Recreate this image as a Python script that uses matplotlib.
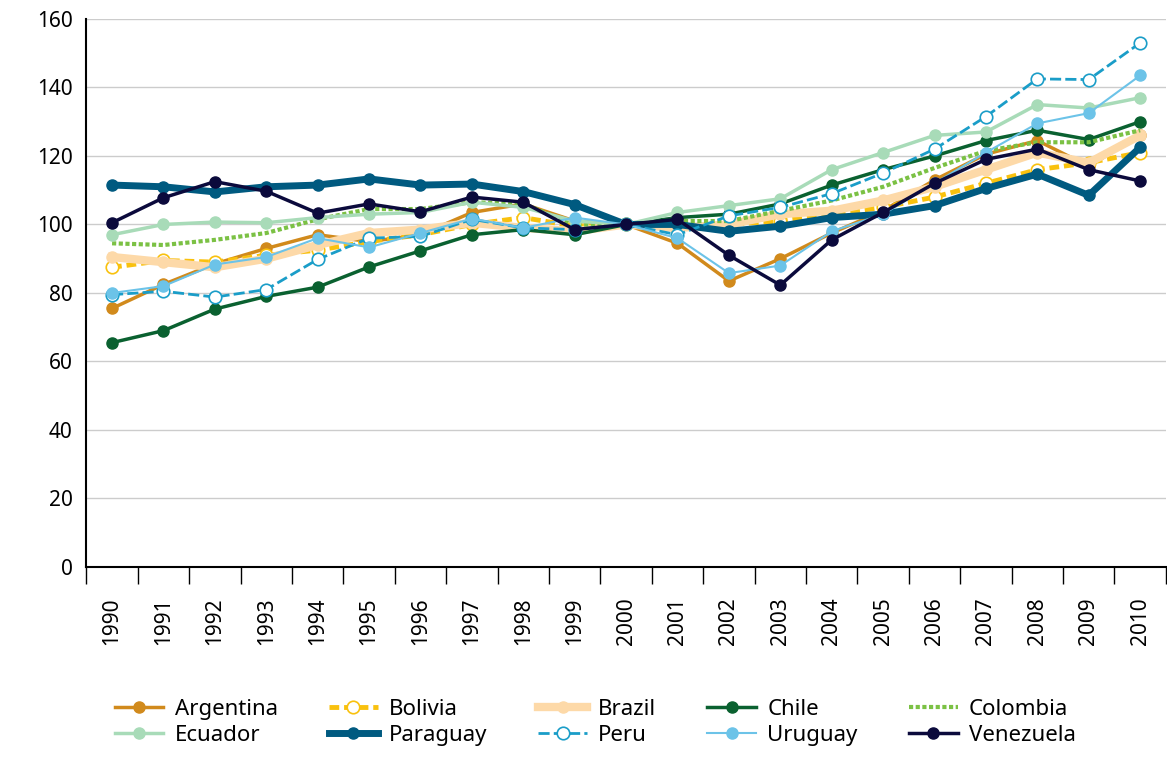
import matplotlib.pyplot as plt
import numpy as np

plt.rcParams['font.family'] = ['Noto Sans', 'DejaVu Sans']

years = list(range(1990, 2011))
argentina = [75.5, 82.5, 88.5, 93, 97, 95, 97, 103.5, 106, 101, 100, 94.5, 83.5, 90, 97.5, 104, 113, 120.5, 124.5, 117, 126]
bolivia = [87.5, 89.5, 89, 91, 92.5, 95, 97, 100, 102, 99.5, 100, 99, 100, 101, 103, 105, 108, 112, 116, 118, 121]
brazil = [90.5, 89, 87.5, 90, 94, 97.5, 98.5, 100.5, 99, 98, 100, 99, 100, 103, 104, 107, 111, 116, 121, 118, 126]
chile = [65.5, 69, 75.3, 79, 81.7, 87.6, 92.3, 97, 98.5, 97, 100, 102, 103, 106, 111.5, 116, 120, 124.5, 127.5, 124.8, 130]
colombia = [94.5, 94, 95.5, 97.5, 101.5, 104.5, 104.5, 106.5, 106, 100, 100, 101, 101, 104, 107, 111, 116.5, 121.5, 124, 124, 127.5]
ecuador = [97, 100, 100.7, 100.5, 102, 103, 103.5, 106.5, 105, 101, 100, 103.5, 105.5, 107.5, 116, 121, 126, 127, 135, 134, 137]
paraguay = [111.5, 111, 109.5, 111, 111.5, 113.3, 111.5, 111.8, 109.6, 105.8, 100, 100, 98, 99.5, 102, 103, 105.5, 110.5, 114.7, 108.5, 122.5]
peru = [79.5, 80.5, 78.8, 81, 89.8, 96, 96.5, 101.5, 99, 98.5, 100, 97, 102.5, 105, 109, 115, 122, 131.5, 142.5, 142.3, 153]
uruguay = [80, 82, 88.3, 90.5, 96, 93.3, 97.5, 101.7, 99, 102, 100, 96, 85.8, 88, 98, 103, 112, 121, 129.5, 132.5, 143.5]
venezuela = [100.5, 107.8, 112.5, 109.7, 103.3, 106, 103.7, 108, 106.5, 98.5, 100, 101.5, 91, 82.3, 95.5, 103.5, 112, 119, 122, 116, 112.7]

fig = plt.figure(figsize=(11.67, 7.58), dpi=100)
ax = fig.add_axes([0.074, 0.252, 0.925, 0.723])

# (data, label, color, linewidth, linestyle, hollow marker)
series = [
    (argentina, 'Argentina', '#d18a1c', 2.5, '-', False),
    (bolivia, 'Bolivia', '#f9c10e', 3.5, (0, (2, 1)), True),
    (brazil, 'Brazil', '#fdd9a8', 6, '-', False),
    (chile, 'Chile', '#0a6130', 2.5, '-', False),
    (colombia, 'Colombia', '#7bc144', 3, (0, (1, 0.6)), None),
    (ecuador, 'Ecuador', '#a8dbb8', 2.5, '-', False),
    (paraguay, 'Paraguay', '#005a80', 5, '-', False),
    (peru, 'Peru', '#1a9dc8', 2, (0, (4, 1.5)), True),
    (uruguay, 'Uruguay', '#6cc3e8', 1.5, '-', False),
    (venezuela, 'Venezuela', '#0b0a3c', 2.5, '-', False),
]

handles = []
for data, label, color, lw, ls, hollow in series:
    if hollow is None:
        h, = ax.plot(years, data, color=color, lw=lw, ls=ls, label=label)
    elif hollow:
        h, = ax.plot(years, data, color=color, lw=lw, ls=ls, marker='o', ms=9,
                     mfc='white', mec=color, mew=1.2, label=label)
    else:
        h, = ax.plot(years, data, color=color, lw=lw, ls=ls, marker='o', ms=8,
                     mfc=color, mec=color, label=label)
    handles.append(h)

ax.set_xlim(1989.54, 2010.3)
ax.set_ylim(0, 160)
ax.set_yticks(range(0, 161, 20))
ax.grid(axis='y', color='#cccccc', lw=1)
ax.set_axisbelow(True)
for s in ['top', 'right']:
    ax.spines[s].set_visible(False)
ax.spines['left'].set_linewidth(1.5)
ax.spines['bottom'].set_linewidth(1.5)
ax.set_xticks(years)
ax.set_xticklabels([str(y) for y in years], rotation=90, fontsize=15)
ax.tick_params(axis='x', which='major', length=0, pad=22)
ax.set_xticks(np.arange(1989.5, 2010.6, 1), minor=True)
ax.tick_params(axis='x', which='minor', length=12, width=1)
ax.tick_params(axis='y', labelsize=15, length=0, pad=10)

# legend reads row by row: matplotlib fills columns first
order = [0, 5, 1, 6, 2, 7, 3, 8, 4, 9]
fig.legend([handles[i] for i in order], [series[i][1] for i in order],
           loc='lower center', bbox_to_anchor=(0.51, -0.01), ncol=5, frameon=False,
           fontsize=16, handlelength=2.2, columnspacing=2.3, labelspacing=0.2,
           handletextpad=0.5)

fig.savefig('out.png', dpi=100)
